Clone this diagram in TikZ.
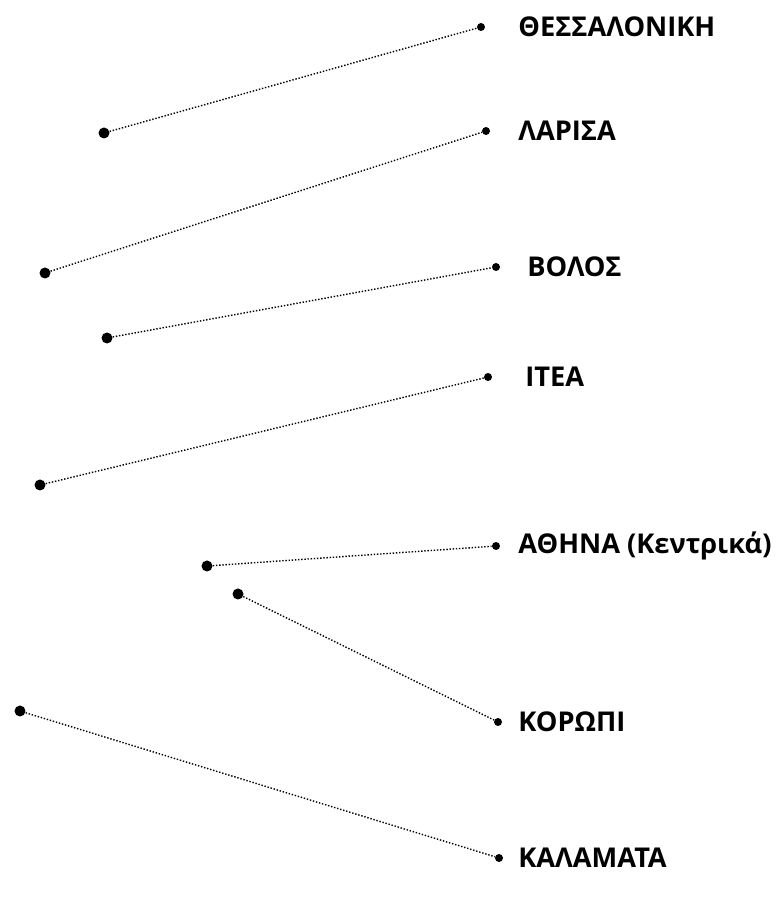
\documentclass[tikz,border=0pt]{standalone}
\usepackage{fontspec}
\setmainfont{Open Sans}
\usepackage{tikz}
\usetikzlibrary{positioning}
\tikzset{
        bigdot/.style={circle, fill=black, inner sep=0pt, minimum size=0.22cm}, % left hand points
        smalldot/.style={circle, fill=black, inner sep=0pt, minimum size=0.16cm}, % right hand points
        town/.style={anchor=west, inner sep=0pt, font=\bfseries\fontsize{15.5}{18}\selectfont},
        link/.style={densely dotted, line width=0.8pt},
}
\begin{document}
\begin{tikzpicture}
\useasboundingbox (0,0) rectangle (15.56,17.98);
% points on the left
\foreach \n/\x/\y in {1/2.08/15.32, 2/0.90/12.52, 3/2.14/11.22, 4/0.80/8.28, 5/4.14/6.66, 6/4.76/6.10, 7/0.40/3.76}
  \node[bigdot] (l\n) at (\x,\y) {};
% points on the right with the towns
\foreach \n/\x/\y/\t/\s in {1/9.62/17.44/10.36/ΘΕΣΣΑΛΟΝΙΚΗ, 2/9.72/15.36/10.36/ΛΑΡΙΣΑ, 3/9.92/12.64/10.54/ΒΟΛΟΣ, 4/9.76/10.44/10.50/ΙΤΕΑ, 5/9.92/7.06/10.36/ΑΘΗΝΑ (Κεντρικά), 6/9.96/3.54/10.36/ΚΟΡΩΠΙ, 7/9.98/0.82/10.36/ΚΑΛΑΜΑΤΑ}
{
  \node[smalldot] (r\n) at (\x,\y) {};
  \node[town] (t\n) at (\t,\y) {\s};
}
\foreach \n in {1,...,7}
  \draw[link] (l\n) -- (r\n);
\end{tikzpicture}
\end{document}
